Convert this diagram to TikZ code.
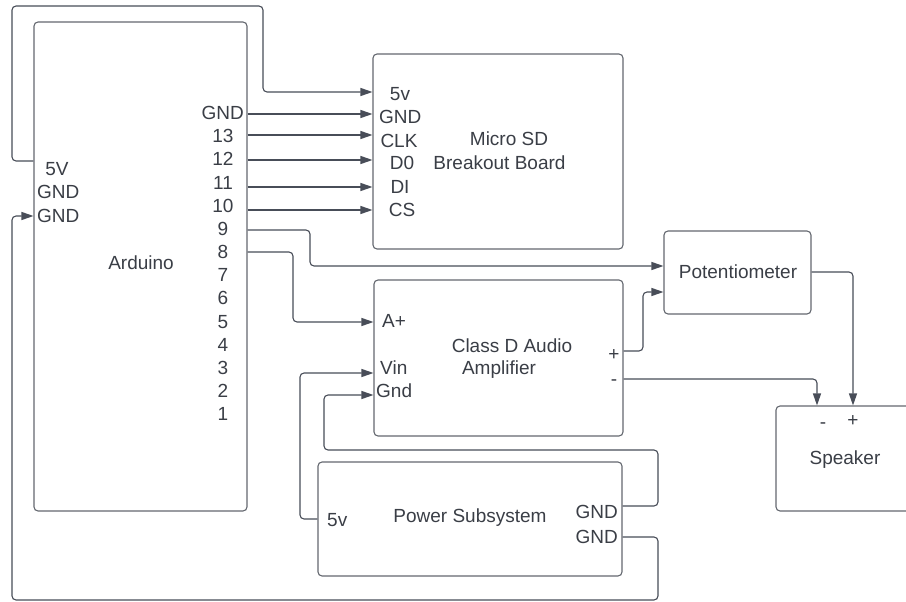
\documentclass[tikz,border=0pt]{standalone}
\usepackage{fontspec}
\setmainfont{Liberation Sans}
\usetikzlibrary{arrows.meta}
\definecolor{linec}{RGB}{72,77,88}
\definecolor{boxc}{RGB}{100,104,112}
\definecolor{txtc}{RGB}{58,62,70}
\tikzset{
  blk/.style={draw=boxc, line width=1.1pt, rounded corners=4pt, inner sep=0pt},
  lbl/.style={inner sep=0pt, text=txtc, font=\fontsize{19}{23}\selectfont, text height=13.6pt, text depth=0pt},
  wire/.style={draw=linec, line width=1.1pt, rounded corners=4pt},
  conn/.style={wire, -{Triangle[length=12pt,width=8pt]}},
}
\begin{document}
\begin{tikzpicture}[x=1pt,y=-1pt]
\useasboundingbox[fill=white] (0,0) rectangle (906,602);
% boxes
\node[blk, minimum width=213pt, minimum height=489pt] (ard) at (140.5,266.5) {};
\node[blk, minimum width=250pt, minimum height=195pt] (sd) at (498,151.5) {};
\node[blk, minimum width=249pt, minimum height=156pt] (amp) at (498.5,358) {};
\node[blk, minimum width=304pt, minimum height=114pt] (pwr) at (470,519) {};
\node[blk, minimum width=147pt, minimum height=83pt] (pot) at (737.5,272.5) {};
\node[blk, minimum width=200pt, minimum height=105pt] (spk) at (876,458.5) {};
% Arduino labels
\node[lbl] (ardt) at (141,263) {Arduino};
\node[lbl] (a5v) at (57,169) {5V};
\node[lbl, anchor=west] (agnd1) at (37,192) {GND};
\node[lbl, anchor=west] (agnd2) at (37,216) {GND};
\node[lbl, anchor=east] (pgnd) at (244,113) {GND};
\foreach \n in {13,12,...,1} {
  \node[lbl] (p\n) at (223,{136+(13-\n)*23.17}) {\n};
}
% SD labels
\node[lbl] (sdt1) at (509,139) {Micro SD};
\node[lbl] (sdt2) at (499.5,163) {Breakout Board};
\node[lbl] (s5v) at (400,94) {5v};
\node[lbl, anchor=west] (sgnd) at (379,117) {GND};
\node[lbl] (sclk) at (399,141) {CLK};
\node[lbl] (sd0) at (402,163) {D0};
\node[lbl] (sdi) at (400,187) {DI};
\node[lbl] (scs) at (402,210) {CS};
% Amplifier labels
\node[lbl] (ampt1) at (512,346) {Class D Audio};
\node[lbl] (ampt2) at (499,368) {Amplifier};
\node[lbl, anchor=west] (aap) at (382,321) {A+};
\node[lbl, anchor=west] (avin) at (380,368) {Vin};
\node[lbl, anchor=west] (agnd) at (376,391) {Gnd};
\node[lbl] (aplus) at (614,354) {+};
\node[lbl] (aminus) at (614,379) {-};
% Power labels
\node[lbl] (pwrt) at (470,516) {Power Subsystem};
\node[lbl, anchor=west] (w5v) at (327,520) {5v};
\node[lbl, anchor=east] (wgnd1) at (618,512) {GND};
\node[lbl, anchor=east] (wgnd2) at (618,537) {GND};
% Potentiometer / Speaker labels
\node[lbl] (pott) at (738,272) {Potentiometer};
\node[lbl] (spkt) at (845,458) {Speaker};
\node[lbl] (sminus) at (823,422) {-};
\node[lbl] (splus) at (853,420) {+};
% connectors
\draw[conn] (ard.west |- 0,161) -- (12,161) -- (12,6) -- (263,6) -- (263,92) -- (sd.west |- 0,92);
\draw[conn] (ard.east |- 0,114) -- (sd.west |- 0,114);
\draw[conn] (ard.east |- 0,135) -- (sd.west |- 0,135);
\draw[conn] (ard.east |- 0,160) -- (sd.west |- 0,160);
\draw[conn] (ard.east |- 0,187) -- (sd.west |- 0,187);
\draw[conn] (ard.east |- 0,210) -- (sd.west |- 0,210);
\draw[conn] (ard.east |- 0,230) -- (310,230) -- (310,266) -- (pot.west |- 0,266);
\draw[conn] (ard.east |- 0,252) -- (293,252) -- (293,322) -- (amp.west |- 0,322);
\draw[conn] (pwr.west |- 0,519) -- (300,519) -- (300,373) -- (amp.west |- 0,373);
\draw[conn] (pwr.east |- 0,506) -- (658,506) -- (658,450) -- (324,450) -- (324,395) -- (amp.west |- 0,395);
\draw[conn] (pwr.east |- 0,537) -- (658,537) -- (658,600) -- (12,600) -- (12,216) -- (ard.west |- 0,216);
\draw[conn] (amp.east |- 0,351) -- (643,351) -- (643,292) -- (pot.west |- 0,292);
\draw[conn] (amp.east |- 0,379) -- (817,379) -- (817,0 |- spk.north);
\draw[conn] (pot.east |- 0,272) -- (853,272) -- (853,0 |- spk.north);
\end{tikzpicture}
\end{document}
